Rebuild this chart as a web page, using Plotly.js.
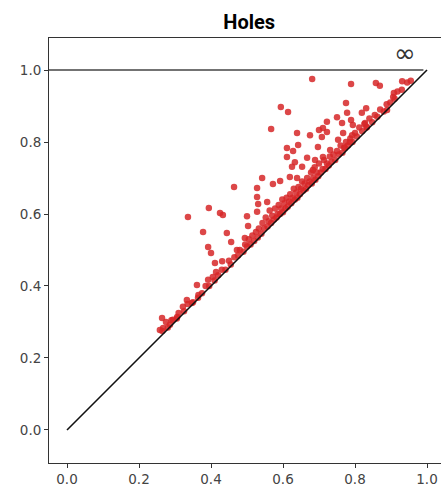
<!DOCTYPE html>
<html>
<head>
<meta charset="utf-8">
<script src="https://cdn.plot.ly/plotly-3.0.1.min.js"></script>
<style>html,body{margin:0;padding:0;overflow:hidden;background:#fff;}</style>
</head>
<body>
<div id="chart"></div>
<script>
// Scattered points (birth, death)
const birthScatter = [0.681,0.789,0.858,0.869,0.931,0.908,0.906,0.889,0.831,0.819,0.775,0.778,0.750,0.764,0.789,0.794,0.828,0.833,0.722,0.711,0.700,0.722,0.675,0.639,0.594,0.614,0.567,0.708,0.767,0.792,0.753,0.786,0.642,0.628,0.731,0.772,0.697,0.611,0.611,0.667,0.689,0.711,0.633,0.625,0.653,0.683,0.619,0.639,0.542,0.572,0.592,0.464,0.528,0.528,0.394,0.336,0.425,0.433,0.500,0.531,0.556,0.528,0.503,0.378,0.444,0.456,0.494,0.392,0.400,0.472,0.411,0.431,0.414,0.361,0.392,0.333,0.322,0.364,0.347,0.264,0.275,0.294,0.306,0.286,0.267,0.258];
const deathScatter = [0.975,0.961,0.964,0.956,0.969,0.936,0.925,0.889,0.894,0.881,0.908,0.881,0.869,0.853,0.861,0.847,0.853,0.842,0.856,0.839,0.833,0.828,0.819,0.825,0.897,0.883,0.836,0.814,0.825,0.819,0.806,0.800,0.792,0.775,0.778,0.783,0.786,0.783,0.758,0.756,0.750,0.758,0.744,0.731,0.731,0.722,0.703,0.700,0.700,0.683,0.692,0.675,0.672,0.647,0.617,0.592,0.603,0.597,0.594,0.628,0.633,0.606,0.567,0.550,0.547,0.522,0.533,0.508,0.492,0.500,0.464,0.469,0.439,0.403,0.417,0.361,0.342,0.367,0.353,0.311,0.300,0.306,0.314,0.292,0.283,0.278];
// Points close to the diagonal
const birthNear = [0.265,0.28,0.29,0.305,0.31,0.325,0.335,0.35,0.365,0.375,0.385,0.395,0.405,0.41,0.42,0.43,0.44,0.45,0.455,0.465,0.475,0.48,0.49,0.495,0.50,0.505,0.51,0.515,0.52,0.525,0.53,0.533,0.54,0.543,0.548,0.552,0.557,0.56,0.563,0.567,0.57,0.575,0.578,0.582,0.585,0.588,0.592,0.595,0.598,0.60,0.604,0.607,0.61,0.613,0.617,0.62,0.623,0.627,0.63,0.633,0.637,0.64,0.643,0.647,0.65,0.653,0.657,0.66,0.664,0.667,0.67,0.674,0.678,0.68,0.684,0.688,0.69,0.694,0.698,0.70,0.705,0.71,0.714,0.718,0.722,0.727,0.73,0.735,0.74,0.745,0.75,0.755,0.76,0.765,0.77,0.775,0.78,0.787,0.793,0.80,0.805,0.812,0.82,0.826,0.832,0.84,0.848,0.855,0.862,0.87,0.88,0.888,0.898,0.91,0.918,0.93,0.945,0.955];
const deathNear = [0.275,0.285,0.305,0.31,0.325,0.33,0.35,0.355,0.375,0.38,0.40,0.40,0.425,0.415,0.43,0.445,0.445,0.47,0.46,0.48,0.485,0.50,0.495,0.515,0.51,0.53,0.515,0.54,0.525,0.55,0.535,0.56,0.545,0.575,0.56,0.59,0.565,0.58,0.61,0.575,0.595,0.585,0.615,0.59,0.60,0.625,0.60,0.615,0.64,0.605,0.63,0.615,0.645,0.62,0.635,0.655,0.63,0.645,0.67,0.64,0.66,0.645,0.675,0.655,0.67,0.69,0.665,0.685,0.67,0.70,0.68,0.69,0.715,0.685,0.70,0.73,0.695,0.715,0.705,0.74,0.715,0.725,0.75,0.725,0.74,0.735,0.76,0.745,0.765,0.75,0.775,0.765,0.79,0.77,0.785,0.80,0.79,0.81,0.80,0.825,0.815,0.84,0.83,0.85,0.84,0.865,0.855,0.875,0.87,0.89,0.885,0.905,0.91,0.92,0.94,0.945,0.965,0.97];
// Reference lines
const diagX = [0, 1];
const diagY = [0, 1];
const infX = [-0.05, 0.99];
const infY = [1, 1];
const tickVals = [0, 0.2, 0.4, 0.6, 0.8, 1.0];
const tickText = ['0.0','0.2','0.4','0.6','0.8','1.0'];
const infLabel = {x: 0.939, y: 1.046, text: '∞'};

const red = 'rgba(214,39,40,0.85)';
const traces = [
  {x: birthNear.concat(birthScatter), y: deathNear.concat(deathScatter), mode: 'markers', type: 'scatter',
   marker: {color: red, size: 6.5, line: {width: 0}}, hoverinfo: 'none'},
  {x: infX, y: infY, mode: 'lines', type: 'scatter', line: {color: '#444', width: 1.5}, hoverinfo: 'none'},
  {x: diagX, y: diagY, mode: 'lines', type: 'scatter', line: {color: '#111', width: 1.6}, hoverinfo: 'none'}
];
const axisBase = {
  showline: true, linecolor: '#333', linewidth: 1, mirror: true,
  ticks: 'outside', ticklen: 4, tickwidth: 1, tickcolor: '#333',
  showgrid: false, zeroline: false,
  tickvals: tickVals, ticktext: tickText,
  tickfont: {family: 'DejaVu Sans', size: 13.5, color: '#444'}
};
const layout = {
  width: 445, height: 488,
  margin: {l: 49, r: 0, t: 38, b: 25},
  paper_bgcolor: '#fff', plot_bgcolor: '#fff',
  showlegend: false,
  title: {text: '<b>Holes</b>', font: {family: 'Roboto', size: 20, color: '#000'}, x: 0.56, xanchor: 'center', y: 0.955, yanchor: 'middle'},
  xaxis: Object.assign({}, axisBase, {range: [-0.05, 1.05]}),
  yaxis: Object.assign({}, axisBase, {range: [-0.0917, 1.0889]}),
  annotations: [{x: infLabel.x, y: infLabel.y, xref: 'x', yref: 'y', text: infLabel.text, showarrow: false,
    font: {family: 'DejaVu Sans', size: 26, color: '#333'}, xanchor: 'center', yanchor: 'middle'}]
};
Plotly.newPlot('chart', traces, layout, {staticPlot: true, displayModeBar: false});
</script>
</body>
</html>
